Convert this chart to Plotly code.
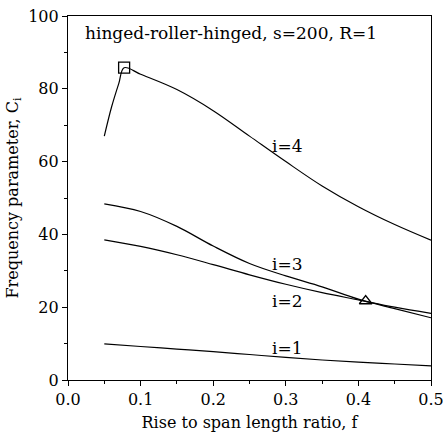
import plotly.graph_objects as go

f_i4 = [0.05, 0.06, 0.07, 0.0773, 0.1, 0.15, 0.2, 0.25, 0.3, 0.35, 0.4, 0.45, 0.5]
c_i4 = [67.0, 75.0, 81.5, 85.8, 84.0, 79.8, 74.0, 67.0, 60.0, 53.3, 47.6, 42.7, 38.4]

f_common = [0.05, 0.1, 0.15, 0.2, 0.25, 0.3, 0.35, 0.4, 0.45, 0.5]
c_i3 = [48.4, 46.3, 42.2, 36.8, 32.0, 28.6, 25.6, 22.2, 19.6, 17.1]
c_i2 = [38.5, 36.7, 34.4, 31.7, 28.9, 26.3, 24.0, 22.0, 20.0, 18.3]
c_i1 = [9.9, 9.2, 8.5, 7.8, 7.0, 6.2, 5.5, 4.9, 4.4, 3.9]

square_pt = ([0.0773], [85.8])
triangle_pt = ([0.41], [21.7])

labels = ["i=4", "i=3", "i=2", "i=1"]
label_x = [0.303, 0.303, 0.303, 0.303]
label_y = [64.3, 32.0, 21.6, 8.8]

title_text = "hinged-roller-hinged, s=200, R=1"
x_title = "Rise to span length ratio, f"
y_title = "Frequency parameter, C<sub>i</sub>"

FONT = "DejaVu Serif"
line_style = dict(color="black", width=1.2, shape="spline", smoothing=1.0)

fig = go.Figure()
fig.add_trace(go.Scatter(x=f_i4, y=c_i4, mode="lines", line=line_style, showlegend=False))
fig.add_trace(go.Scatter(x=f_common, y=c_i3, mode="lines", line=line_style, showlegend=False))
fig.add_trace(go.Scatter(x=f_common, y=c_i2, mode="lines", line=line_style, showlegend=False))
fig.add_trace(go.Scatter(x=f_common, y=c_i1, mode="lines", line=line_style, showlegend=False))
fig.add_trace(go.Scatter(x=square_pt[0], y=square_pt[1], mode="markers",
                         marker=dict(symbol="square-open", size=11, color="black", line=dict(width=1.3)),
                         showlegend=False))
fig.add_trace(go.Scatter(x=triangle_pt[0], y=triangle_pt[1], mode="markers",
                         marker=dict(symbol="triangle-up-open", size=11, color="black", line=dict(width=1.3)),
                         showlegend=False))

for t, x, y in zip(labels, label_x, label_y):
    fig.add_annotation(x=x, y=y, text=t, showarrow=False, xanchor="center", yanchor="middle",
                       font=dict(family=FONT, size=17, color="black"))

fig.add_annotation(x=0.021, y=95.2, xref="x", yref="y", text=title_text, showarrow=False,
                   xanchor="left", yanchor="middle", font=dict(family=FONT, size=17, color="black"))

fig.update_layout(
    width=443, height=437,
    margin=dict(l=68, r=12, t=16, b=57),
    paper_bgcolor="white", plot_bgcolor="white",
    font=dict(family=FONT, size=16, color="black"),
)
fig.update_xaxes(
    range=[0, 0.5], tickvals=[0, 0.1, 0.2, 0.3, 0.4, 0.5], ticktext=["0.0", "0.1", "0.2", "0.3", "0.4", "0.5"],
    ticks="outside", ticklen=5, tickwidth=1, tickcolor="black",
    minor=dict(dtick=0.05, ticks="outside", ticklen=3, tickcolor="black"),
    showline=True, linecolor="black", linewidth=1.2, mirror=True, showgrid=False, zeroline=False,
    title=dict(text=x_title, font=dict(family=FONT, size=16), standoff=8),
    tickfont=dict(family=FONT, size=16), automargin=False, ticklabeloverflow="allow",
)
fig.update_yaxes(
    range=[0, 100], dtick=20,
    ticks="outside", ticklen=5, tickwidth=1, tickcolor="black",
    minor=dict(dtick=10, ticks="outside", ticklen=3, tickcolor="black"),
    showline=True, linecolor="black", linewidth=1.2, mirror=True, showgrid=False, zeroline=False,
    title=dict(text=y_title, font=dict(family=FONT, size=16), standoff=5),
    tickfont=dict(family=FONT, size=16), automargin=False, ticklabeloverflow="allow",
)

fig.write_html("out.html")
